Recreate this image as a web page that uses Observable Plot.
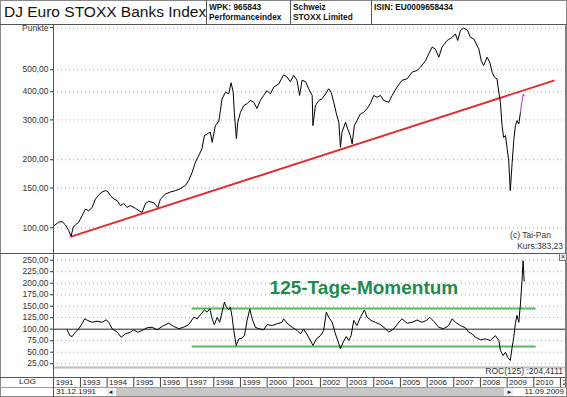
<!DOCTYPE html>
<html><head><meta charset="utf-8">
<script src="https://cdn.jsdelivr.net/npm/d3@7"></script>
<script src="https://cdn.jsdelivr.net/npm/@observablehq/plot@0.6"></script>
<style>
html,body{margin:0;padding:0;background:#fff;}
#wrap{position:relative;width:567px;height:397px;overflow:hidden;font-family:"Liberation Sans",Arial,sans-serif;color:#222;}
.hl{position:absolute;height:1px;background:#555;}
.vl{position:absolute;width:1px;background:#555;}
.small{font-size:8.3px;font-weight:bold;line-height:10px;white-space:nowrap;color:#111;}
.lbl{font-size:8.5px;color:#333;white-space:nowrap;line-height:10px;}
</style></head><body>
<div id="wrap"></div>
<script>
// ---------- data ----------
const priceYears = [1992.00,1992.19,1992.31,1992.44,1992.56,1992.65,1992.73,1992.81,1992.94,1993.06,1993.19,1993.31,1993.44,1993.56,1993.69,1993.81,1993.94,1994.02,1994.12,1994.25,1994.38,1994.50,1994.62,1994.75,1994.87,1995.06,1995.19,1995.31,1995.44,1995.56,1995.75,1995.90,1996.00,1996.19,1996.37,1996.56,1996.75,1996.94,1997.06,1997.19,1997.31,1997.44,1997.56,1997.65,1997.75,1997.87,1997.94,1998.06,1998.19,1998.25,1998.31,1998.44,1998.56,1998.65,1998.73,1998.77,1998.85,1998.90,1999.00,1999.12,1999.25,1999.37,1999.50,1999.62,1999.75,1999.87,2000.00,2000.12,2000.25,2000.44,2000.62,2000.75,2000.87,2001.00,2001.12,2001.22,2001.31,2001.44,2001.56,2001.69,2001.72,2001.81,2001.94,2002.06,2002.19,2002.31,2002.40,2002.50,2002.60,2002.69,2002.75,2002.81,2002.94,2003.02,2003.12,2003.19,2003.27,2003.37,2003.50,2003.62,2003.75,2003.87,2004.00,2004.12,2004.25,2004.37,2004.56,2004.69,2004.87,2005.06,2005.25,2005.44,2005.62,2005.75,2005.94,2006.06,2006.19,2006.31,2006.44,2006.56,2006.75,2006.94,2007.06,2007.15,2007.25,2007.37,2007.52,2007.62,2007.75,2007.87,2007.94,2008.03,2008.12,2008.25,2008.35,2008.44,2008.52,2008.62,2008.69,2008.75,2008.81,2008.87,2008.94,2009.00,2009.06,2009.12,2009.19,2009.25,2009.31,2009.37,2009.44,2009.50,2009.56,2009.61,2009.64];
const priceValues = [102,106,106.6,103,97.3,91.8,100.6,103,106,113,121,119,123,134,140,144,146,145,139,134,132,125.5,128,123,125.5,122,119,117,128,131,129,123,134,141,144,146,149,154,162,176,195,209,224,256,260,265,239,283,296,330,372,398,391,438,398,324,248,293,324,347,354,366,359,337,366,385,404,391,419,433,475,464,443,472,449,385,449,443,412,385,283,347,366,372,391,412,398,359,319,293,227,265,293,274,256,235,283,298,319,324,337,354,385,378,385,366,359,385,419,449,456,488,496,513,548,588,630,618,568,630,673,696,720,673,746,764,746,696,685,640,618,548,522,568,539,488,464,456,398,359,283,251,256,224,198,146,195,243,283,298,288,324,366,391,383.23];

const momYears = [1992.50,1992.60,1992.69,1992.81,1992.94,1993.06,1993.16,1993.27,1993.44,1993.63,1993.81,1993.97,1994.06,1994.19,1994.38,1994.53,1994.69,1994.87,1995.00,1995.15,1995.31,1995.50,1995.69,1995.88,1996.06,1996.31,1996.50,1996.69,1996.87,1997.06,1997.25,1997.38,1997.53,1997.65,1997.75,1997.85,1997.94,1998.02,1998.13,1998.22,1998.31,1998.40,1998.47,1998.56,1998.62,1998.69,1998.75,1998.84,1998.94,1999.06,1999.15,1999.25,1999.35,1999.44,1999.56,1999.69,1999.87,2000.00,2000.19,2000.38,2000.56,2000.62,2000.75,2000.94,2001.13,2001.25,2001.37,2001.56,2001.72,2001.85,2002.00,2002.12,2002.22,2002.31,2002.44,2002.56,2002.65,2002.75,2002.85,2002.97,2003.06,2003.15,2003.25,2003.37,2003.50,2003.65,2003.75,2003.90,2004.06,2004.25,2004.44,2004.56,2004.75,2004.94,2005.06,2005.25,2005.44,2005.62,2005.81,2005.97,2006.10,2006.25,2006.44,2006.62,2006.81,2006.94,2007.06,2007.25,2007.44,2007.56,2007.69,2007.81,2008.00,2008.19,2008.37,2008.56,2008.69,2008.75,2008.85,2008.94,2009.02,2009.12,2009.19,2009.25,2009.31,2009.37,2009.44,2009.50,2009.56,2009.60,2009.64];
const momValues = [98.7,86,84,93.5,101,112,122.6,119,115,117.4,115,120.4,115,101,93.5,82.6,90,93.5,98.7,93.5,97.2,103,104.3,98.7,106,113,106,101,104.3,110,126,122.6,133.5,142,137,144.3,122.6,110,126,115,137,158.7,149,142,148,126,97,64.6,79,81,86,119,144,122.6,104,101,98.7,110,108,112,115,122.6,113,104,97,90,100,82.6,64.6,79,86,97,137,126,115,90,75.4,57.4,71.7,84,75.4,86,119,108,126,142,126,119,115,110,101,93.5,101,115,122.6,113,115,120,115,119,126,117,104,101,108,122.6,115,108,103,93.5,90,82.6,77,79,75.4,86,75.4,53.7,42.8,50,39,32,61,82.6,112,130,115,155,206,249,204.41];

const trendYears = [1992.65, 2010.75];
const trendValues = [91.5, 448];
const bandYears = [1997.19, 2010.09];
const bandLevels = [145, 62.5];

const mainTickValues = [100, 150, 200, 300, 400, 500];
const topTickValue = 760;          // row labelled "Punkte"
const topTickLabel = "Punkte";
const lowerTickValues = [25, 50, 75, 100, 125, 150, 175, 200, 225, 250];
const yearTicks = [1992,1993,1994,1995,1996,1997,1998,1999,2000,2001,2002,2003,2004,2005,2006,2007,2008,2009,2010,2011];
const yearLabels = ["1991","1993","1994","1995","1996","1997","1998","1999","2000","2001","2002","2003","2004","2005","2006","2007","2008","2009","2010","20"];

const titleText = "DJ Euro STOXX Banks Index";
const headerCells = [["WPK: 965843","Performanceindex"],["Schweiz","STOXX Limited"],["ISIN: EU0009658434",""]];
const momentumLabel = "125-Tage-Momentum";
const rocLabel = "ROC(125) :204,4111";
const lastPrice = "383,23";
const startDate = "31.12.1991", endDate = "11.09.2009";

// ---------- build ----------
const wrap = document.getElementById("wrap");
const fmt = v => v.toFixed(2).replace(".", ",");
const xDomain = [1991.99, 2011.19];
const font = "Liberation Sans, Arial, sans-serif";

function place(el, l, t) { el.style.position = "absolute"; el.style.left = l + "px"; el.style.top = t + "px"; wrap.appendChild(el); return el; }
function div(cls, html, l, t, extra) { const d = document.createElement("div"); d.className = cls; d.innerHTML = html; if (extra) Object.assign(d.style, extra); return place(d, l, t); }
function rdiv(cls, html, right, t, extra) { const d = div(cls, html, 0, t, extra); d.style.left = "auto"; d.style.right = (567 - right) + "px"; return d; }

const price = priceYears.map((t, i) => ({t, v: priceValues[i]}));
const tailStart = priceYears.indexOf(2009.50);
const priceHead = price.slice(0, tailStart + 1);
const priceTail = price.slice(tailStart);
const mom = momYears.map((t, i) => ({t, v: momValues[i]}));
const trend = trendYears.map((t, i) => ({t, v: trendValues[i]}));

// main panel
const mainPlot = Plot.plot({
  width: 567, height: 229,
  marginLeft: 53, marginRight: 2, marginTop: 0, marginBottom: 0,
  x: {domain: xDomain, axis: null},
  y: {type: "log", domain: [77, 792.6], axis: null},
  style: {background: "transparent", fontFamily: font, fontSize: "8.5px", color: "#333", overflow: "visible"},
  marks: [
    Plot.ruleY([...mainTickValues, topTickValue], {stroke: "#a8a8a8", strokeDasharray: "1,3"}),
    Plot.axisY(mainTickValues, {anchor: "left", label: null, tickSize: 3, tickPadding: 2, tickFormat: fmt, stroke: "#333"}),
    Plot.text([topTickLabel], {y: [topTickValue], frameAnchor: "left", textAnchor: "end", dx: -5, text: d => d, fill: "#333", fontSize: 8.5}),
    Plot.line(trend, {x: "t", y: "v", stroke: "#e5262b", strokeWidth: 1.8}),
    Plot.line(priceHead, {x: "t", y: "v", stroke: "#000", strokeWidth: 1}),
    Plot.line(priceTail, {x: "t", y: "v", stroke: "#9b3fb5", strokeWidth: 1})
  ]
});
place(mainPlot, 0, 24);

// lower panel
const lowerPlot = Plot.plot({
  width: 567, height: 124,
  marginLeft: 53, marginRight: 2, marginTop: 0, marginBottom: 10,
  x: {domain: xDomain, axis: null},
  y: {domain: [16.7, 264.6], axis: null},
  style: {background: "transparent", fontFamily: font, fontSize: "8.5px", color: "#333"},
  marks: [
    Plot.ruleY(lowerTickValues.filter(d => d !== 100), {stroke: "#a8a8a8", strokeDasharray: "1,3"}),
    Plot.ruleY([100], {stroke: "#222", strokeWidth: 1}),
    Plot.ruleY([16.7], {stroke: "#bdbdbd", strokeWidth: 2}),
    Plot.axisY(lowerTickValues, {anchor: "left", label: null, tickSize: 3, tickPadding: 2, tickFormat: fmt, stroke: "#333"}),
    Plot.ruleY(bandLevels, {x1: bandYears[0], x2: bandYears[1], stroke: "#5cb85c", strokeWidth: 2}),
    Plot.line(mom, {x: "t", y: "v", stroke: "#000", strokeWidth: 1}),
    Plot.text([momentumLabel], {x: 2003.63, y: 190, text: d => d, fill: "#1f8a4c", fontSize: 19, fontWeight: "bold", fontFamily: font})
  ]
});
place(lowerPlot, 0, 253);

// year axis row
const yearPlot = Plot.plot({
  width: 567, height: 10,
  marginLeft: 53, marginRight: 2, marginTop: 0, marginBottom: 0,
  x: {domain: xDomain, axis: null},
  style: {background: "transparent", fontFamily: font, fontSize: "8px", color: "#222"},
  marks: [
    Plot.ruleX(yearTicks.slice(1), {stroke: "#444"}),
    Plot.text(yearTicks, {x: d => d, text: (d, i) => yearLabels[i], frameAnchor: "middle", textAnchor: "start", dx: 2, fill: "#222"})
  ]
});
place(yearPlot, 0, 377);

// frame lines
function hline(y, x1, x2, c) { return div("hl", "", x1, y, {width: (x2 - x1) + "px", background: c || "#555"}); }
function vline(x, y1, y2, c) { return div("vl", "", x, y1, {height: (y2 - y1) + "px", background: c || "#555"}); }
hline(0, 0, 567, "#888"); hline(396, 0, 567, "#888");
vline(0, 0, 397, "#888"); vline(566, 0, 397, "#888");
hline(24, 0, 567);
hline(253, 0, 567);
hline(377, 0, 567);
hline(387, 0, 567, "#999");
vline(53, 24, 397);
vline(565, 24, 387, "#777");
vline(206, 0, 24); vline(290, 0, 24); vline(371, 0, 24);
hline(27, 50, 53, "#333");

// header
div("", titleText, 4, 2, {fontSize: "15.5px", lineHeight: "20px", whiteSpace: "nowrap", color: "#111"});
const cellX = [209, 293, 374];
headerCells.forEach((c, i) => {
  div("small", c[0], cellX[i], 2);
  if (c[1]) div("small", c[1], cellX[i], 12);
});

// panel annotations
rdiv("lbl", "(c) Tai-Pan", 551, 230);
rdiv("lbl", "Kurs:" + lastPrice, 563, 241);
rdiv("lbl", rocLabel, 563, 366);
div("", "×", 559, 253, {width: "6px", height: "6px", border: "1px solid #777", fontSize: "7px", lineHeight: "6px", textAlign: "center", background: "#eee"});

// bottom rows
div("lbl", "LOG", 19, 377, {color: "#222", fontSize: "8px"});
div("lbl", startDate, 56, 387, {color: "#222", fontSize: "8px"});
div("", "", 116, 388, {width: "388px", height: "8px", background: "#c8c8c8"});
div("", "◄", 106, 388, {width: "9px", height: "8px", fontSize: "6px", lineHeight: "8px", textAlign: "center", background: "#f0f0f0"});
div("", "►", 505, 388, {width: "9px", height: "8px", fontSize: "6px", lineHeight: "8px", textAlign: "center", background: "#f0f0f0"});
rdiv("lbl", endDate, 564, 387, {color: "#222", fontSize: "8px"});
</script>
</body></html>
